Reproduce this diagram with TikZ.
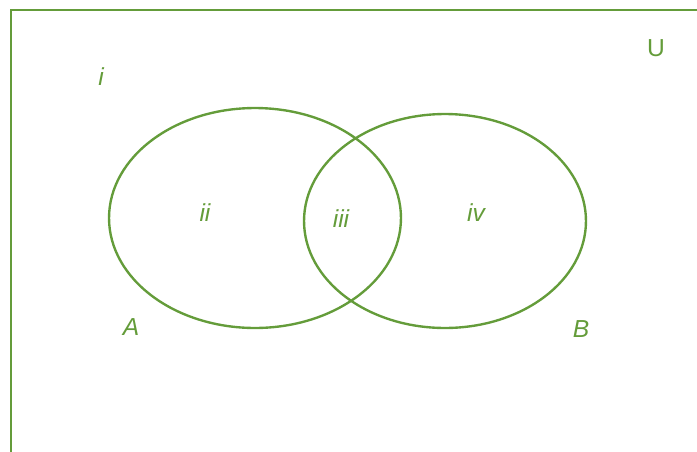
\documentclass[tikz,border=0pt]{standalone}
\usepackage{fontspec}
\setmainfont{Liberation Sans}
\usetikzlibrary{shapes.geometric}
\definecolor{venngreen}{RGB}{100,156,58}

\begin{document}
\begin{tikzpicture}[
    x=0.02cm, y=-0.02cm,
    frame/.style={draw=venngreen, line width=1.6pt},
    set/.style={draw=venngreen, line width=1.35pt, ellipse, inner sep=0pt},
    lbl/.style={text=venngreen, font=\fontsize{14}{16}\selectfont\itshape, inner sep=0pt}
]
\useasboundingbox (0,0) rectangle (697,451);
\begin{scope}
\clip (0,0) rectangle (697,451);
\draw[frame] (11,10) rectangle (720,480);
\end{scope}
\node[set, minimum width=5.84cm, minimum height=4.4cm] (setA) at (255,218) {};
\node[set, minimum width=5.64cm, minimum height=4.28cm] (setB) at (445,221) {};
\node[lbl] (regI) at (101,77) {i};
\node[lbl, font=\fontsize{14}{16}\selectfont] (univ) at (656,48) {U};
\node[lbl] (regII) at (205,213) {ii};
\node[lbl] (regIII) at (341,219) {iii};
\node[lbl] (regIV) at (476,213) {iv};
\node[lbl] (nameA) at (131,327) {A};
\node[lbl] (nameB) at (581,329) {B};
\end{tikzpicture}
\end{document}
